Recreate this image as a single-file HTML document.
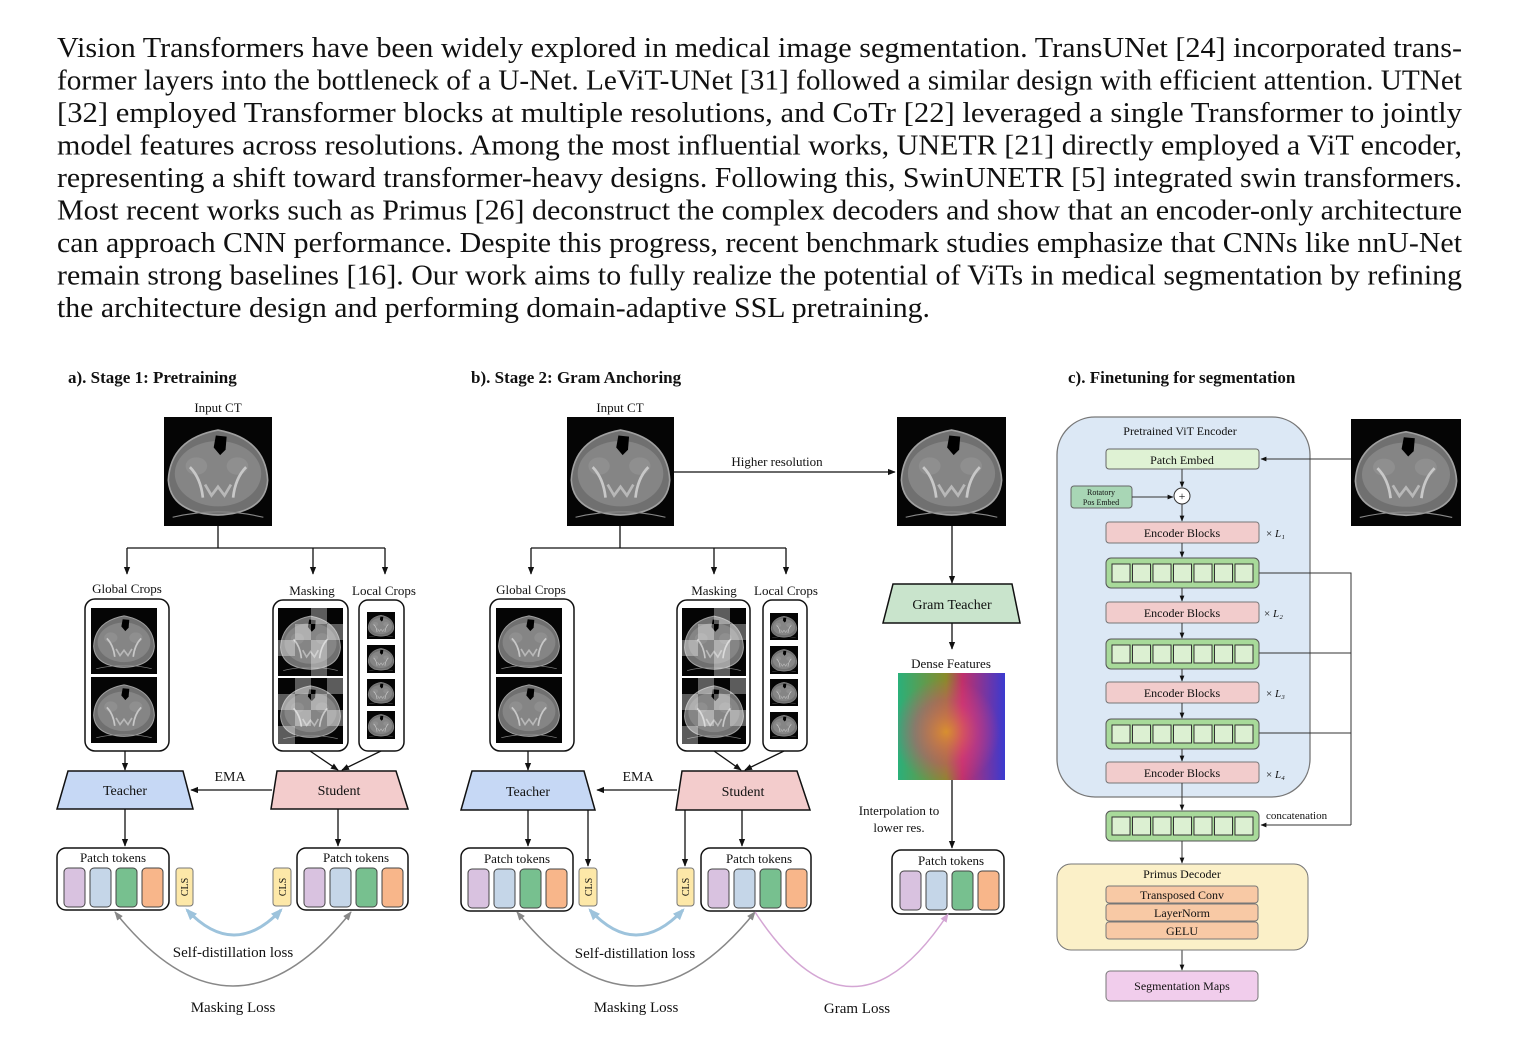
<!DOCTYPE html>
<html><head><meta charset="utf-8"><style>
html,body{margin:0;padding:0;background:#fff;}
svg{display:block;}
svg text{font-family:"Liberation Serif","Times New Roman",serif;}
</style></head><body>
<svg width="1518" height="1052" viewBox="0 0 1518 1052" xmlns="http://www.w3.org/2000/svg" style="font-family:'Liberation Serif',serif">
<defs>
<symbol id="ct" viewBox="0 0 100 100" preserveAspectRatio="none">
<rect width="100" height="100" fill="#050505"/>
<path d="M4 58 Q6 20 50 12 Q94 20 96 58 Q94 88 50 90 Q6 88 4 58Z" fill="#707070" stroke="#a0a0a0" stroke-width="1.5"/>
<ellipse cx="50" cy="52" rx="40" ry="30" fill="#858585"/>
<ellipse cx="30" cy="45" rx="10" ry="8" fill="#8f8f8f"/>
<ellipse cx="68" cy="45" rx="10" ry="8" fill="#8f8f8f"/>
<path d="M48 17 L58 18 L57 30 L52 35 L46 28Z" fill="#000"/>
<path d="M24 46 Q34 56 36 74 M76 46 Q66 56 64 74" stroke="#c8c8c8" stroke-width="2.5" fill="none"/>
<path d="M38 62 L44 72 L50 64 L56 72 L62 62" stroke="#b8b8b8" stroke-width="2.5" fill="none"/>
<path d="M8 92 Q50 82 92 92" stroke="#888" stroke-width="1" fill="none"/>
</symbol>
<marker id="ar" viewBox="0 0 10 10" refX="9" refY="5" markerWidth="6" markerHeight="6" orient="auto"><path d="M0 1 L10 5 L0 9Z" fill="#111"/></marker>
<marker id="arg" viewBox="0 0 10 10" refX="9" refY="5" markerWidth="6" markerHeight="6" orient="auto-start-reverse"><path d="M0 1 L10 5 L0 9Z" fill="#888"/></marker>
<marker id="arb" viewBox="0 0 10 10" refX="8" refY="5" markerWidth="4" markerHeight="4" orient="auto-start-reverse"><path d="M0 1 L10 5 L0 9Z" fill="#9dc3dc"/></marker>
<marker id="arp" viewBox="0 0 10 10" refX="9" refY="5" markerWidth="6" markerHeight="6" orient="auto"><path d="M0 1 L10 5 L0 9Z" fill="#d4a6d4"/></marker>
<linearGradient id="dfh" x1="0" y1="0" x2="1" y2="0"><stop offset="0" stop-color="#2ab07a"/><stop offset="0.45" stop-color="#8a8a2a"/><stop offset="0.6" stop-color="#c0306a"/><stop offset="1" stop-color="#3a3ad0"/></linearGradient>
<radialGradient id="dfr" cx="0.45" cy="0.55" r="0.5"><stop offset="0" stop-color="#e09030" stop-opacity="0.9"/><stop offset="0.6" stop-color="#e04080" stop-opacity="0.4"/><stop offset="1" stop-color="#e04080" stop-opacity="0"/></radialGradient>
<g id="tok">
<rect x="7" y="20" width="21" height="39" rx="4" fill="#d9c2e0" stroke="#444"/>
<rect x="33" y="20" width="21" height="39" rx="4" fill="#c5d6e8" stroke="#444"/>
<rect x="59" y="20" width="21" height="39" rx="4" fill="#77c08f" stroke="#444"/>
<rect x="85" y="20" width="21" height="39" rx="4" fill="#f8b68a" stroke="#444"/>
</g>
<g id="row">
<rect x="0" y="0" width="153" height="30" rx="5" fill="#a8da9a" stroke="#555"/>
<g fill="#dcf0d2" stroke="#333" stroke-width="1">
<rect x="6" y="6" width="18" height="18"/><rect x="26.5" y="6" width="18" height="18"/><rect x="47" y="6" width="18" height="18"/><rect x="67.5" y="6" width="18" height="18"/><rect x="88" y="6" width="18" height="18"/><rect x="108.5" y="6" width="18" height="18"/><rect x="129" y="6" width="18" height="18"/>
</g></g>
</defs>

<g font-size="28" fill="#111">
<text x="57" y="57" textLength="1405" lengthAdjust="spacingAndGlyphs">Vision Transformers have been widely explored in medical image segmentation. TransUNet [24] incorporated trans-</text>
<text x="57" y="89.5" textLength="1405" lengthAdjust="spacingAndGlyphs">former layers into the bottleneck of a U-Net. LeViT-UNet [31] followed a similar design with efficient attention. UTNet</text>
<text x="57" y="122" textLength="1405" lengthAdjust="spacingAndGlyphs">[32] employed Transformer blocks at multiple resolutions, and CoTr [22] leveraged a single Transformer to jointly</text>
<text x="57" y="154.5" textLength="1405" lengthAdjust="spacingAndGlyphs">model features across resolutions. Among the most influential works, UNETR [21] directly employed a ViT encoder,</text>
<text x="57" y="187" textLength="1405" lengthAdjust="spacingAndGlyphs">representing a shift toward transformer-heavy designs. Following this, SwinUNETR [5] integrated swin transformers.</text>
<text x="57" y="219.5" textLength="1405" lengthAdjust="spacingAndGlyphs">Most recent works such as Primus [26] deconstruct the complex decoders and show that an encoder-only architecture</text>
<text x="57" y="252" textLength="1405" lengthAdjust="spacingAndGlyphs">can approach CNN performance. Despite this progress, recent benchmark studies emphasize that CNNs like nnU-Net</text>
<text x="57" y="284.5" textLength="1405" lengthAdjust="spacingAndGlyphs">remain strong baselines [16]. Our work aims to fully realize the potential of ViTs in medical segmentation by refining</text>
<text x="57" y="317" textLength="873" lengthAdjust="spacingAndGlyphs">the architecture design and performing domain-adaptive SSL pretraining.</text>
</g>

<g font-size="17" font-weight="bold" fill="#111">
<text x="68" y="383">a). Stage 1: Pretraining</text>
<text x="471" y="383">b). Stage 2: Gram Anchoring</text>
<text x="1068" y="383">c). Finetuning for segmentation</text>
</g>

<g font-size="13" fill="#111" text-anchor="middle">
<text x="218" y="412">Input CT</text>
<use href="#ct" x="164" y="417" width="108" height="109"/>
<g stroke="#111" stroke-width="1.3" fill="none">
<path d="M218 526 V548 M127 548 H385"/>
<path d="M127 548 V574" marker-end="url(#ar)"/>
<path d="M313 548 V574" marker-end="url(#ar)"/>
<path d="M385 548 V574" marker-end="url(#ar)"/>
</g>
<text x="127" y="593">Global Crops</text>
<text x="312" y="595">Masking</text>
<text x="384" y="595">Local Crops</text>
<rect x="85" y="599" width="84" height="152" rx="10" fill="#fff" stroke="#111" stroke-width="1.5"/>
<use href="#ct" x="91" y="608" width="66" height="66"/>
<use href="#ct" x="91" y="677" width="66" height="66"/>
<rect x="273" y="600" width="75" height="151" rx="10" fill="#fff" stroke="#111" stroke-width="1.5"/>
<use href="#ct" x="278" y="608" width="65" height="68"/>
<use href="#ct" x="278" y="678" width="65" height="66"/>
<g fill="#fff" opacity="0.35">
<rect x="295" y="624" width="16" height="16"/><rect x="311" y="608" width="16" height="16"/><rect x="278" y="640" width="17" height="16"/><rect x="311" y="640" width="16" height="16"/><rect x="327" y="624" width="16" height="16"/><rect x="311" y="656" width="16" height="20"/>
<rect x="278" y="694" width="17" height="16"/><rect x="295" y="678" width="16" height="16"/><rect x="311" y="694" width="16" height="16"/><rect x="327" y="678" width="16" height="16"/><rect x="295" y="710" width="16" height="16"/><rect x="278" y="726" width="17" height="18"/><rect x="327" y="710" width="16" height="16"/>
</g>
<rect x="359" y="600" width="45" height="151" rx="9" fill="#fff" stroke="#111" stroke-width="1.5"/>
<use href="#ct" x="367" y="612" width="28" height="27"/>
<use href="#ct" x="367" y="645" width="28" height="28"/>
<use href="#ct" x="367" y="679" width="28" height="27"/>
<use href="#ct" x="367" y="711" width="28" height="28"/>
<g stroke="#111" stroke-width="1.3" fill="none">
<path d="M125 751 V770" marker-end="url(#ar)"/>
<path d="M310 751 L338 770" marker-end="url(#ar)"/>
<path d="M381 751 L342 770" marker-end="url(#ar)"/>
</g>
<path d="M68 771 H183 L193 809 H57Z" fill="#c6d8f5" stroke="#111" stroke-width="1.5"/>
<path d="M277 771 H396 L408 809 H271Z" fill="#f3cccc" stroke="#111" stroke-width="1.5"/>
<text x="125" y="795" font-size="14">Teacher</text>
<text x="339" y="795" font-size="14">Student</text>
<text x="230" y="781" font-size="14">EMA</text>
<g stroke="#111" stroke-width="1.3" fill="none">
<path d="M272 790 H191" marker-end="url(#ar)"/>
<path d="M125 809 V846" marker-end="url(#ar)"/>
<path d="M338 809 V846" marker-end="url(#ar)"/>
</g>
<rect x="57" y="848" width="112" height="62" rx="9" fill="#fff" stroke="#111" stroke-width="1.5"/>
<text x="113" y="862">Patch tokens</text>
<use href="#tok" x="57" y="848"/>
<rect x="297" y="848" width="111" height="62" rx="9" fill="#fff" stroke="#111" stroke-width="1.5"/>
<text x="356" y="862">Patch tokens</text>
<use href="#tok" x="297" y="848"/>
<rect x="176" y="868" width="17" height="38" rx="3" fill="#fde8a8" stroke="#777"/>
<rect x="273" y="868" width="18" height="38" rx="3" fill="#fde8a8" stroke="#777"/>
<text transform="translate(188,887) rotate(-90)" font-size="10">CLS</text>
<text transform="translate(286,887) rotate(-90)" font-size="10">CLS</text>
<path d="M187 910 Q234 960 281 910" stroke="#9dc3dc" stroke-width="3" fill="none" marker-start="url(#arb)" marker-end="url(#arb)"/>
<path d="M115 912 Q233 1060 351 912" stroke="#888" stroke-width="1.5" fill="none" marker-start="url(#arg)" marker-end="url(#arg)"/>
<text x="233" y="957" font-size="15">Self-distillation loss</text>
<text x="233" y="1012" font-size="15">Masking Loss</text>

<text x="620" y="412">Input CT</text>
<use href="#ct" x="567" y="417" width="107" height="109"/>
<use href="#ct" x="897" y="417" width="109" height="109"/>
<text x="777" y="466">Higher resolution</text>
<g stroke="#111" stroke-width="1.3" fill="none">
<path d="M674 472 H895" marker-end="url(#ar)"/>
<path d="M620 526 V548 M531 548 H786"/>
<path d="M531 548 V574" marker-end="url(#ar)"/>
<path d="M714 548 V574" marker-end="url(#ar)"/>
<path d="M786 548 V574" marker-end="url(#ar)"/>
<path d="M952 526 V583" marker-end="url(#ar)"/>
<path d="M952 623 V649" marker-end="url(#ar)"/>
<path d="M952 780 V848" marker-end="url(#ar)"/>
</g>
<text x="531" y="594">Global Crops</text>
<text x="714" y="595">Masking</text>
<text x="786" y="595">Local Crops</text>
<rect x="490" y="599" width="84" height="152" rx="10" fill="#fff" stroke="#111" stroke-width="1.5"/>
<use href="#ct" x="496" y="608" width="66" height="66"/>
<use href="#ct" x="496" y="677" width="66" height="66"/>
<rect x="677" y="600" width="73" height="151" rx="10" fill="#fff" stroke="#111" stroke-width="1.5"/>
<use href="#ct" x="682" y="608" width="64" height="68"/>
<use href="#ct" x="682" y="678" width="64" height="66"/>
<g fill="#fff" opacity="0.35">
<rect x="698" y="624" width="16" height="16"/><rect x="714" y="608" width="16" height="16"/><rect x="682" y="640" width="16" height="16"/><rect x="714" y="640" width="16" height="16"/><rect x="730" y="624" width="16" height="16"/><rect x="714" y="656" width="16" height="20"/>
<rect x="682" y="694" width="16" height="16"/><rect x="698" y="678" width="16" height="16"/><rect x="714" y="694" width="16" height="16"/><rect x="730" y="678" width="16" height="16"/><rect x="698" y="710" width="16" height="16"/><rect x="682" y="726" width="16" height="18"/><rect x="730" y="710" width="16" height="16"/>
</g>
<rect x="763" y="600" width="44" height="151" rx="9" fill="#fff" stroke="#111" stroke-width="1.5"/>
<use href="#ct" x="770" y="613" width="28" height="27"/>
<use href="#ct" x="770" y="646" width="28" height="28"/>
<use href="#ct" x="770" y="679" width="28" height="27"/>
<use href="#ct" x="770" y="712" width="28" height="27"/>
<g stroke="#111" stroke-width="1.3" fill="none">
<path d="M528 751 V770" marker-end="url(#ar)"/>
<path d="M714 751 L741 770" marker-end="url(#ar)"/>
<path d="M784 751 L745 770" marker-end="url(#ar)"/>
</g>
<path d="M472 771 H584 L595 810 H461Z" fill="#c6d8f5" stroke="#111" stroke-width="1.5"/>
<path d="M682 771 H797 L810 810 H676Z" fill="#f3cccc" stroke="#111" stroke-width="1.5"/>
<text x="528" y="796" font-size="14">Teacher</text>
<text x="743" y="796" font-size="14">Student</text>
<text x="638" y="781" font-size="14">EMA</text>
<path d="M883 623 H1020 L1012 584 H893Z" fill="#c9e4cc" stroke="#111" stroke-width="1.5"/>
<text x="952" y="609" font-size="14">Gram Teacher</text>
<text x="951" y="668">Dense Features</text>
<rect x="898" y="673" width="107" height="107" fill="url(#dfh)"/>
<rect x="898" y="673" width="107" height="107" fill="url(#dfr)"/>
<text x="899" y="815">Interpolation to</text>
<text x="899" y="832">lower res.</text>
<g stroke="#111" stroke-width="1.3" fill="none">
<path d="M677 790 H597" marker-end="url(#ar)"/>
<path d="M528 810 V846" marker-end="url(#ar)"/>
<path d="M588 810 V866" marker-end="url(#ar)"/>
<path d="M685 810 V866" marker-end="url(#ar)"/>
<path d="M742 810 V846" marker-end="url(#ar)"/>
</g>
<rect x="461" y="848" width="112" height="63" rx="9" fill="#fff" stroke="#111" stroke-width="1.5"/>
<text x="517" y="863">Patch tokens</text>
<use href="#tok" x="461" y="849"/>
<rect x="701" y="848" width="110" height="63" rx="9" fill="#fff" stroke="#111" stroke-width="1.5"/>
<text x="759" y="863">Patch tokens</text>
<use href="#tok" x="701" y="849"/>
<rect x="892" y="850" width="112" height="64" rx="9" fill="#fff" stroke="#111" stroke-width="1.5"/>
<text x="951" y="865">Patch tokens</text>
<use href="#tok" x="893" y="851"/>
<rect x="579" y="868" width="18" height="38" rx="3" fill="#fde8a8" stroke="#777"/>
<rect x="677" y="868" width="17" height="38" rx="3" fill="#fde8a8" stroke="#777"/>
<text transform="translate(592,887) rotate(-90)" font-size="10">CLS</text>
<text transform="translate(689,887) rotate(-90)" font-size="10">CLS</text>
<path d="M590 910 Q636 960 683 910" stroke="#9dc3dc" stroke-width="3" fill="none" marker-start="url(#arb)" marker-end="url(#arb)"/>
<path d="M517 912 Q636 1060 755 912" stroke="#888" stroke-width="1.5" fill="none" marker-start="url(#arg)" marker-end="url(#arg)"/>
<path d="M755 912 Q852 1060 948 914" stroke="#d4a6d4" stroke-width="1.5" fill="none" marker-end="url(#arp)"/>
<text x="635" y="958" font-size="15">Self-distillation loss</text>
<text x="636" y="1012" font-size="15">Masking Loss</text>
<text x="857" y="1013" font-size="15">Gram Loss</text>

<rect x="1057" y="417" width="253" height="380" rx="38" fill="#dce8f5" stroke="#777" stroke-width="1.3"/>
<text x="1180" y="435" font-size="12">Pretrained ViT Encoder</text>
<use href="#ct" x="1351" y="419" width="110" height="107"/>
<rect x="1106" y="449" width="153" height="20" rx="3" fill="#dff2d4" stroke="#666"/>
<text x="1182" y="464" font-size="12">Patch Embed</text>
<rect x="1071" y="486" width="61" height="22" rx="3" fill="#a8d6b5" stroke="#666"/>
<text x="1101" y="495" font-size="8">Rotatory</text>
<text x="1101" y="505" font-size="8">Pos Embed</text>
<circle cx="1182" cy="496" r="8" fill="#fff" stroke="#333"/>
<text x="1182" y="500" font-size="12">+</text>
<rect x="1106" y="522" width="153" height="21" rx="3" fill="#f2cccc" stroke="#777"/>
<text x="1182" y="537" font-size="12">Encoder Blocks</text>
<use href="#row" x="1106" y="558"/>
<rect x="1106" y="602" width="153" height="21" rx="3" fill="#f2cccc" stroke="#777"/>
<text x="1182" y="617" font-size="12">Encoder Blocks</text>
<use href="#row" x="1106" y="639"/>
<rect x="1106" y="682" width="153" height="21" rx="3" fill="#f2cccc" stroke="#777"/>
<text x="1182" y="697" font-size="12">Encoder Blocks</text>
<use href="#row" x="1106" y="719"/>
<rect x="1106" y="762" width="153" height="21" rx="3" fill="#f2cccc" stroke="#777"/>
<text x="1182" y="777" font-size="12">Encoder Blocks</text>
<use href="#row" x="1106" y="811"/>
<g font-size="11" text-anchor="start">
<text x="1266" y="537">× <tspan font-style="italic">L₁</tspan></text>
<text x="1264" y="617">× <tspan font-style="italic">L₂</tspan></text>
<text x="1266" y="697">× <tspan font-style="italic">L₃</tspan></text>
<text x="1266" y="778">× <tspan font-style="italic">L₄</tspan></text>
<text x="1266" y="819">concatenation</text>
</g>
<g stroke="#333" stroke-width="1" fill="none">
<path d="M1351 459 H1261" marker-end="url(#ar)"/>
<path d="M1182 469 V487" marker-end="url(#ar)"/>
<path d="M1132 497 H1173" marker-end="url(#ar)"/>
<path d="M1182 504 V521" marker-end="url(#ar)"/>
<path d="M1182 543 V557" marker-end="url(#ar)"/>
<path d="M1182 588 V601" marker-end="url(#ar)"/>
<path d="M1182 623 V638" marker-end="url(#ar)"/>
<path d="M1182 669 V681" marker-end="url(#ar)"/>
<path d="M1182 703 V718" marker-end="url(#ar)"/>
<path d="M1182 749 V761" marker-end="url(#ar)"/>
<path d="M1182 783 V810" marker-end="url(#ar)"/>
<path d="M1259 573 H1351 V825 M1259 653 H1351 M1259 733 H1351"/>
<path d="M1351 825 H1261" marker-end="url(#ar)"/>
<path d="M1182 841 V863" marker-end="url(#ar)"/>
<path d="M1182 950 V970" marker-end="url(#ar)"/>
</g>
<rect x="1057" y="864" width="251" height="86" rx="14" fill="#fbf0c8" stroke="#777"/>
<text x="1182" y="878" font-size="12">Primus Decoder</text>
<rect x="1106" y="886" width="152" height="17" rx="3" fill="#f8c9a5" stroke="#777"/>
<rect x="1106" y="904" width="152" height="17" rx="3" fill="#f8c9a5" stroke="#777"/>
<rect x="1106" y="922" width="152" height="17" rx="3" fill="#f8c9a5" stroke="#777"/>
<text x="1182" y="899" font-size="12">Transposed Conv</text>
<text x="1182" y="917" font-size="12">LayerNorm</text>
<text x="1182" y="935" font-size="12">GELU</text>
<rect x="1106" y="971" width="152" height="30" rx="4" fill="#f1cdec" stroke="#777"/>
<text x="1182" y="990" font-size="12">Segmentation Maps</text>
</g>
</svg>
</body></html>
